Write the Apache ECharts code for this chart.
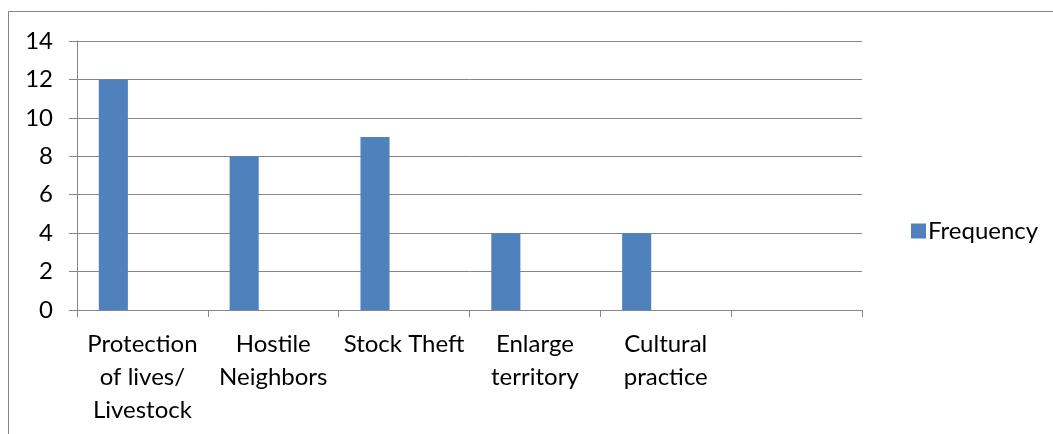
<!DOCTYPE html>
<html>
<head>
<meta charset="utf-8">
<script src="https://cdn.jsdelivr.net/npm/echarts@6/dist/echarts.min.js"></script>
<style>
  html, body { margin: 0; padding: 0; background: #fff; }
  #chart { width: 1053px; height: 434px; }
</style>
</head>
<body>
<div id="chart"></div>
<script>
// data
const categories = ['Protection\nof lives/\nLivestock', 'Hostile\nNeighbors', 'Stock Theft', 'Enlarge\nterritory', 'Cultural\npractice', '']
const frequency = [12, 8, 9, 4, 4, null]
const yTicks = { min: 0, max: 14, step: 2 }

const chart = echarts.init(document.getElementById('chart'))
const font = 'Lato, "Open Sans", sans-serif'
const gray = '#868686'
const fs = 24

// excel left two empty slots per category (3 series, gap 150%)
const blank = categories.map(() => null)

const option = {
  animation: false,
  textStyle: { fontFamily: font },
  graphic: [
    {
      type: 'polyline',
      shape: { points: [[8.5, 434], [8.5, 11.5], [1053, 11.5]] },
      style: { stroke: gray, lineWidth: 1, fill: null },
    },
  ],
  grid: { left: 77, right: 191, top: 41, bottom: 124 },
  legend: {
    data: ['Frequency'],
    orient: 'vertical',
    left: 906,
    top: 214,
    itemWidth: 15,
    itemHeight: 15,
    itemGap: 7,
    icon: 'rect',
    textStyle: { fontFamily: font, fontSize: fs, color: '#000', padding: [0, 0, 0, -3] },
  },
  xAxis: {
    type: 'category',
    data: categories,
    boundaryGap: true,
    axisLine: { lineStyle: { color: gray } },
    axisTick: { show: true, length: 7, lineStyle: { color: gray } },
    axisLabel: {
      interval: 0,
      margin: 18,
      color: '#000',
      fontSize: fs,
      lineHeight: 33,
      fontFamily: font,
    },
  },
  yAxis: {
    type: 'value',
    min: yTicks.min,
    max: yTicks.max,
    interval: yTicks.step,
    axisLine: { show: true, lineStyle: { color: gray } },
    axisTick: { show: true, length: 8, lineStyle: { color: gray } },
    splitLine: { lineStyle: { color: gray } },
    axisLabel: { margin: 24, color: '#000', fontSize: fs, fontFamily: font },
  },
  series: [
    {
      name: 'Frequency',
      type: 'bar',
      data: frequency,
      barGap: '0%',
      barCategoryGap: '33.33%',
      itemStyle: { color: '#4F81BD' },
    },
    { name: 's2', type: 'bar', data: blank },
    { name: 's3', type: 'bar', data: blank },
  ],
}

chart.setOption(option)
</script>
</body>
</html>
